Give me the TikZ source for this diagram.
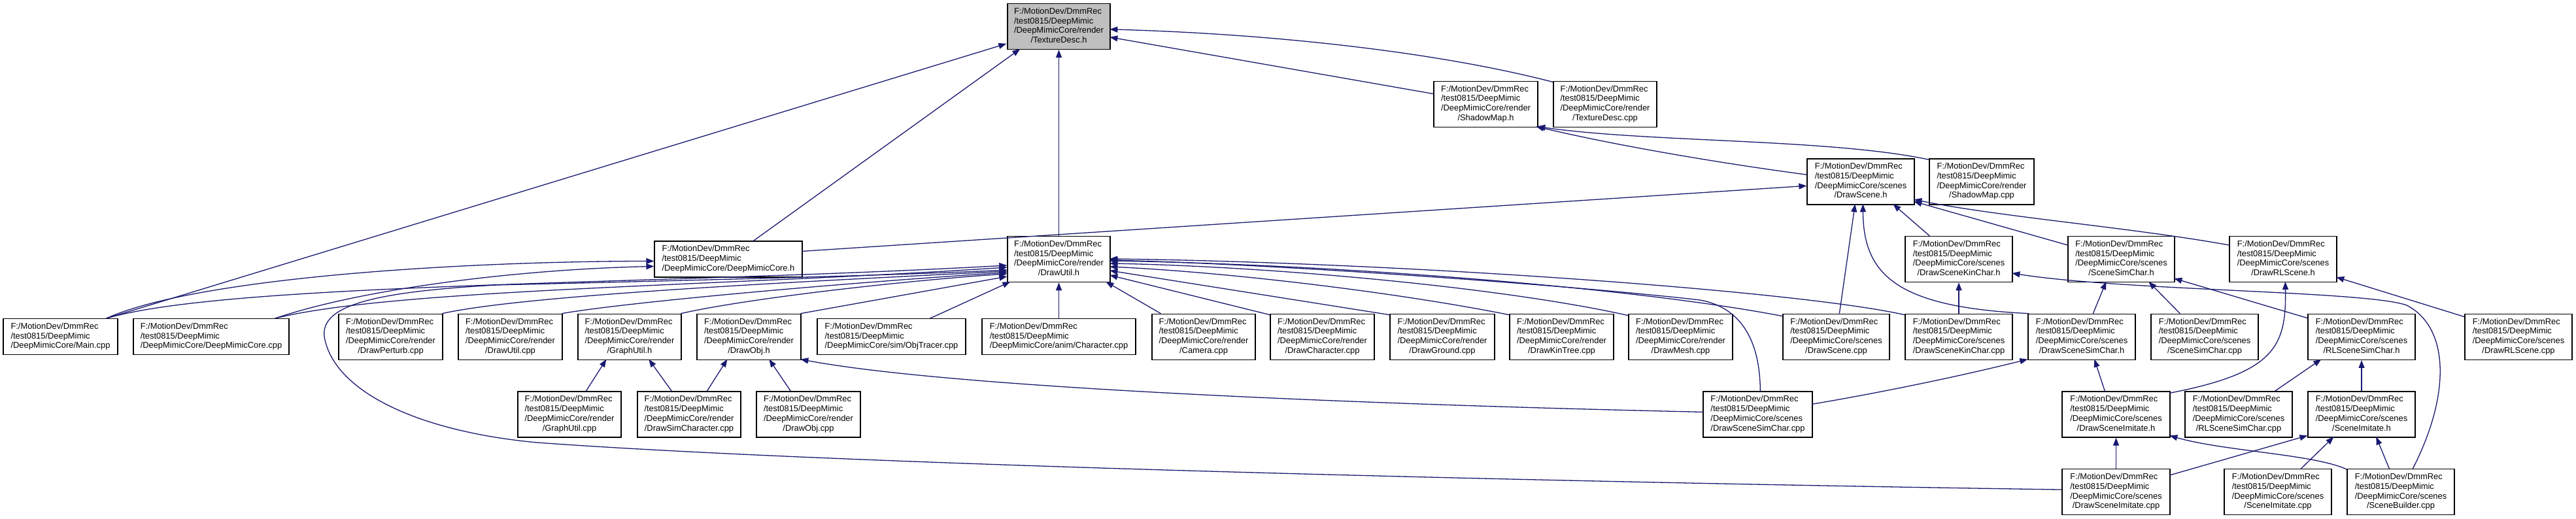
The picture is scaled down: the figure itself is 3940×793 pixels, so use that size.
\documentclass[tikz,border=0pt]{standalone}
\usepackage{fontspec}
\setmainfont{Liberation Sans}
\usetikzlibrary{arrows.meta}
\definecolor{edgeblue}{RGB}{25,25,112}
\definecolor{rootgray}{RGB}{191,191,191}
\newcommand{\lblfour}[2]{\begin{tabular}{@{}l@{}}F:/MotionDev/DmmRec\\/test0815/DeepMimic\\#1\\\multicolumn{1}{@{}c@{}}{#2}\end{tabular}}
\newcommand{\lblthree}[1]{\begin{tabular}{@{}l@{}}F:/MotionDev/DmmRec\\/test0815/DeepMimic\\#1\end{tabular}}
\begin{document}
\begin{tikzpicture}[x=1pt,y=-1pt,
  fbox/.style={draw=black, line width=1.3pt, fill=white, inner sep=0pt,
    minimum height=70pt, font=\fontsize{12.9}{14.7}\selectfont},
  three/.style={minimum height=55pt},
  rootbox/.style={fill=rootgray},
  dep/.style={draw=edgeblue, line width=1.3pt,
    -{Triangle[length=12pt,width=9pt]}}]
\fill[white] (0,0) rectangle (3940,793);
\useasboundingbox (0,0) rectangle (3940,793);
% row 0
\node[fbox,rootbox,minimum width=157pt] (tdh) at (1619.5,40.5) {\lblfour{/DeepMimicCore/render}{/TextureDesc.h}};
% row 1
\node[fbox,minimum width=159pt] (smh) at (2272.5,159.2) {\lblfour{/DeepMimicCore/render}{/ShadowMap.h}};
\node[fbox,minimum width=158pt] (tdcpp) at (2455,159.2) {\lblfour{/DeepMimicCore/render}{/TextureDesc.cpp}};
% row 2
\node[fbox,minimum width=164pt] (dsh) at (2846,277.9) {\lblfour{/DeepMimicCore/scenes}{/DrawScene.h}};
\node[fbox,minimum width=160pt] (smcpp) at (3031,277.9) {\lblfour{/DeepMimicCore/render}{/ShadowMap.cpp}};
% row 3
\node[fbox,three,minimum width=226pt] (dmch) at (1114,396.6) {\lblthree{/DeepMimicCore/DeepMimicCore.h}};
\node[fbox,minimum width=157pt] (duh) at (1619.5,396.6) {\lblfour{/DeepMimicCore/render}{/DrawUtil.h}};
\node[fbox,minimum width=164pt] (dskh) at (2996,396.6) {\lblfour{/DeepMimicCore/scenes}{/DrawSceneKinChar.h}};
\node[fbox,minimum width=163pt] (ssch) at (3244.5,396.6) {\lblfour{/DeepMimicCore/scenes}{/SceneSimChar.h}};
\node[fbox,minimum width=164pt] (drlh) at (3492,396.6) {\lblfour{/DeepMimicCore/scenes}{/DrawRLScene.h}};
% row 4
\node[fbox,three,minimum width=175pt] (main) at (92.5,515.3) {\lblthree{/DeepMimicCore/Main.cpp}};
\node[fbox,three,minimum width=238pt] (dmccpp) at (323,515.3) {\lblthree{/DeepMimicCore/DeepMimicCore.cpp}};
\node[fbox,minimum width=159pt] (dperturb) at (597.5,515.3) {\lblfour{/DeepMimicCore/render}{/DrawPerturb.cpp}};
\node[fbox,minimum width=159pt] (ducpp) at (780.5,515.3) {\lblfour{/DeepMimicCore/render}{/DrawUtil.cpp}};
\node[fbox,minimum width=158pt] (guh) at (963,515.3) {\lblfour{/DeepMimicCore/render}{/GraphUtil.h}};
\node[fbox,minimum width=159pt] (doh) at (1145.5,515.3) {\lblfour{/DeepMimicCore/render}{/DrawObj.h}};
\node[fbox,three,minimum width=227pt] (objtr) at (1363.5,515.3) {\lblthree{/DeepMimicCore/sim/ObjTracer.cpp}};
\node[fbox,three,minimum width=235pt] (charcpp) at (1619.5,515.3) {\lblthree{/DeepMimicCore/anim/Character.cpp}};
\node[fbox,minimum width=158pt] (camera) at (1841,515.3) {\lblfour{/DeepMimicCore/render}{/Camera.cpp}};
\node[fbox,minimum width=159pt] (dchar) at (2022.5,515.3) {\lblfour{/DeepMimicCore/render}{/DrawCharacter.cpp}};
\node[fbox,minimum width=160pt] (dground) at (2206,515.3) {\lblfour{/DeepMimicCore/render}{/DrawGround.cpp}};
\node[fbox,minimum width=159pt] (dkintree) at (2388.5,515.3) {\lblfour{/DeepMimicCore/render}{/DrawKinTree.cpp}};
\node[fbox,minimum width=159pt] (dmesh) at (2570.5,515.3) {\lblfour{/DeepMimicCore/render}{/DrawMesh.cpp}};
\node[fbox,minimum width=163pt] (dscpp) at (2808.5,515.3) {\lblfour{/DeepMimicCore/scenes}{/DrawScene.cpp}};
\node[fbox,minimum width=164pt] (dskcpp) at (2996,515.3) {\lblfour{/DeepMimicCore/scenes}{/DrawSceneKinChar.cpp}};
\node[fbox,minimum width=164pt] (dssh) at (3184,515.3) {\lblfour{/DeepMimicCore/scenes}{/DrawSceneSimChar.h}};
\node[fbox,minimum width=164pt] (ssccpp) at (3372,515.3) {\lblfour{/DeepMimicCore/scenes}{/SceneSimChar.cpp}};
\node[fbox,minimum width=164pt] (rlssh) at (3612,515.3) {\lblfour{/DeepMimicCore/scenes}{/RLSceneSimChar.h}};
\node[fbox,minimum width=164pt] (drlcpp) at (3852,515.3) {\lblfour{/DeepMimicCore/scenes}{/DrawRLScene.cpp}};
% row 5
\node[fbox,minimum width=158pt] (gucpp) at (871,634) {\lblfour{/DeepMimicCore/render}{/GraphUtil.cpp}};
\node[fbox,minimum width=158pt] (dsimchar) at (1054,634) {\lblfour{/DeepMimicCore/render}{/DrawSimCharacter.cpp}};
\node[fbox,minimum width=159pt] (docpp) at (1236.5,634) {\lblfour{/DeepMimicCore/render}{/DrawObj.cpp}};
\node[fbox,minimum width=167pt] (dsscpp) at (2688.5,634) {\lblfour{/DeepMimicCore/scenes}{/DrawSceneSimChar.cpp}};
\node[fbox,minimum width=165pt] (dsih) at (3236.5,634) {\lblfour{/DeepMimicCore/scenes}{/DrawSceneImitate.h}};
\node[fbox,minimum width=164pt] (rlsscpp) at (3424,634) {\lblfour{/DeepMimicCore/scenes}{/RLSceneSimChar.cpp}};
\node[fbox,minimum width=164pt] (sih) at (3612,634) {\lblfour{/DeepMimicCore/scenes}{/SceneImitate.h}};
% row 6
\node[fbox,minimum width=165pt] (dsicpp) at (3236.5,752.7) {\lblfour{/DeepMimicCore/scenes}{/DrawSceneImitate.cpp}};
\node[fbox,minimum width=164pt] (sicpp) at (3484,752.7) {\lblfour{/DeepMimicCore/scenes}{/SceneImitate.cpp}};
\node[fbox,minimum width=164pt] (sbcpp) at (3672,752.7) {\lblfour{/DeepMimicCore/scenes}{/SceneBuilder.cpp}};

% edges into TextureDesc.h
\draw[dep] ([shift={(158,0)}]main.north west) -- ([shift={(-1,62)}]tdh.north west);
\draw[dep] ([shift={(152,0)}]dmch.north west) -- ([shift={(20,70)}]tdh.north west);
\draw[dep] (duh.north) -- (tdh.south);
\draw[dep] ([shift={(0,20)}]smh.north west) -- ([shift={(157,52)}]tdh.north west);
\draw[dep] ([shift={(0,2)}]tdcpp.north west) .. controls (2200,80) and (1950,52) .. ([shift={(157,40)}]tdh.north west);
% into ShadowMap.h
\draw[dep] ([shift={(0,25)}]dsh.north west) .. controls (2620,248) and (2470,222) .. ([shift={(157,70)}]smh.north west);
\draw[dep] ([shift={(0,2)}]smcpp.north west) .. controls (2800,212) and (2520,218) .. ([shift={(159,70)}]smh.north west);
% into DrawScene.h
\draw[dep] ([shift={(226,16)}]dmch.north west) -- ([shift={(0,42)}]dsh.north west);
\draw[dep] ([shift={(87,0)}]dscpp.north west) -- ([shift={(74,70)}]dsh.north west);
\draw[dep] ([shift={(2,0)}]dssh.north west) .. controls (2900,470) and (2850,420) .. ([shift={(86,70)}]dsh.north west);
\draw[dep] ([shift={(38,0)}]dskh.north west) -- ([shift={(132,70)}]dsh.north west);
\draw[dep] ([shift={(0,14)}]ssch.north west) -- ([shift={(164,66)}]dsh.north west);
\draw[dep] ([shift={(0,14)}]drlh.north west) .. controls (3260,348) and (3060,332) .. ([shift={(164,63)}]dsh.north west);
% into DeepMimicCore.h
\draw[dep] ([shift={(158,0)}]main.north west) .. controls (300,425) and (700,400) .. ([shift={(0,31)}]dmch.north west);
\draw[dep] ([shift={(217,0)}]dmccpp.north west) .. controls (560,440) and (800,412) .. ([shift={(0,39)}]dmch.north west);
% into DrawUtil.h (left side)
\draw[dep] ([shift={(158,0)}]main.north west) .. controls (350,432) and (1000,436) .. ([shift={(0,45)}]duh.north west);
\draw[dep] ([shift={(217,0)}]dmccpp.north west) .. controls (600,442) and (1100,438) .. ([shift={(0,48)}]duh.north west);
\draw[dep] ([shift={(0,32)}]dsicpp.north west) .. controls (2400,738) and (1300,712) .. (821,677)
  .. controls (640,660) and (515,600) .. (497,520) .. controls (485,470) and (560,447) .. (760,436)
  .. controls (1100,428) and (1400,420) .. ([shift={(0,52)}]duh.north west);
\draw[dep] ([shift={(159,0)}]dperturb.north west) .. controls (800,452) and (1200,432) .. ([shift={(0,54)}]duh.north west);
\draw[dep] ([shift={(159,0)}]ducpp.north west) .. controls (960,462) and (1300,432) .. ([shift={(0,56)}]duh.north west);
\draw[dep] ([shift={(158,0)}]guh.north west) .. controls (1150,455) and (1400,428) .. ([shift={(0,58)}]duh.north west);
\draw[dep] ([shift={(159,0)}]doh.north west) -- ([shift={(0,62)}]duh.north west);
% into DrawUtil.h (bottom, right side)
\draw[dep] ([shift={(173,0)}]objtr.north west) -- ([shift={(5,70)}]duh.north west);
\draw[dep] (charcpp.north) -- (duh.south);
\draw[dep] ([shift={(14,0)}]camera.north west) -- ([shift={(151,70)}]duh.north west);
\draw[dep] ([shift={(0,2)}]dchar.north west) -- ([shift={(157,60)}]duh.north west);
\draw[dep] ([shift={(0,2)}]dground.north west) -- ([shift={(157,53)}]duh.north west);
\draw[dep] ([shift={(0,2)}]dkintree.north west) .. controls (2150,450) and (1900,418) .. ([shift={(157,47)}]duh.north west);
\draw[dep] ([shift={(0,3)}]dmesh.north west) .. controls (2300,440) and (1950,408) .. ([shift={(157,42)}]duh.north west);
\draw[dep] ([shift={(0,4)}]dscpp.north west) .. controls (2500,440) and (2050,405) .. ([shift={(157,38)}]duh.north west);
\draw[dep] ([shift={(88,0)}]dsscpp.north west) .. controls (2692,520) and (2662,470) .. (2600,459)
  .. controls (2400,436) and (1950,404) .. ([shift={(157,37)}]duh.north west);
\draw[dep] ([shift={(0,2)}]dskcpp.north west) .. controls (2750,445) and (2150,402) .. ([shift={(157,35)}]duh.north west);
% into GraphUtil.h / DrawObj.h
\draw[dep] ([shift={(105,0)}]gucpp.north west) -- ([shift={(44,70)}]guh.north west);
\draw[dep] ([shift={(53,0)}]dsimchar.north west) -- ([shift={(109,70)}]guh.north west);
\draw[dep] ([shift={(107,0)}]dsimchar.north west) -- ([shift={(47,70)}]doh.north west);
\draw[dep] ([shift={(53,0)}]docpp.north west) -- ([shift={(111,70)}]doh.north west);
\draw[dep] ([shift={(0,32)}]dsscpp.north west) .. controls (2050,618) and (1450,592) .. ([shift={(159,70)}]doh.north west);
% scene headers
\draw[dep] (dskcpp.north) -- (dskh.south);
\draw[dep] ([shift={(100,0)}]dssh.north west) -- ([shift={(59,70)}]ssch.north west);
\draw[dep] ([shift={(45,0)}]ssccpp.north west) -- ([shift={(124,70)}]ssch.north west);
\draw[dep] ([shift={(0,7)}]rlssh.north west) -- ([shift={(163,65)}]ssch.north west);
\draw[dep] ([shift={(0,5)}]drlcpp.north west) -- ([shift={(164,63)}]drlh.north west);
\draw[dep] ([shift={(66,0)}]dsih.north west) -- ([shift={(102,70)}]dssh.north west);
\draw[dep] ([shift={(165,3)}]dsih.north west) .. controls (3480,570) and (3497,530) .. ([shift={(86,70)}]drlh.north west);
\draw[dep] ([shift={(167,20)}]dsscpp.north west) .. controls (2880,600) and (3000,575) .. ([shift={(0,70)}]dssh.north west);
\draw[dep] ([shift={(138,0)}]rlsscpp.north west) -- ([shift={(21,70)}]rlssh.north west);
\draw[dep] (sih.north) -- (rlssh.south);
\draw[dep] (dsicpp.north) -- (dsih.south);
\draw[dep] ([shift={(165,10)}]dsicpp.north west) -- ([shift={(0,68)}]sih.north west);
\draw[dep] ([shift={(118,0)}]sicpp.north west) -- ([shift={(40,70)}]sih.north west);
\draw[dep] ([shift={(65,0)}]sbcpp.north west) -- ([shift={(105,70)}]sih.north west);
\draw[dep] ([shift={(0,1)}]sbcpp.north west) .. controls (3540,695) and (3400,690) .. ([shift={(165,68)}]dsih.north west);
\draw[dep] ([shift={(101,0)}]sbcpp.north west) .. controls (3750,600) and (3745,500) .. (3681,467)
  .. controls (3620,445) and (3250,445) .. ([shift={(164,57)}]dskh.north west);
\end{tikzpicture}
\end{document}
